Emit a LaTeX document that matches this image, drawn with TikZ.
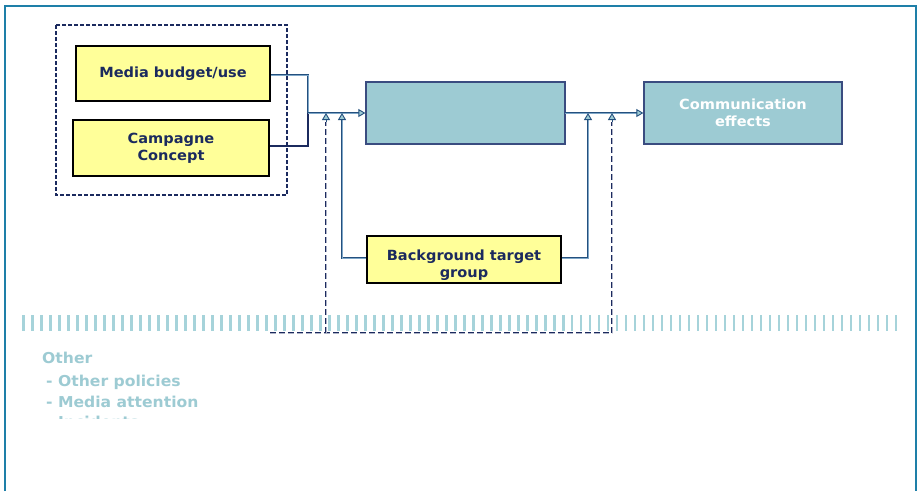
\documentclass[tikz,border=0pt]{standalone}
\usepackage{fontspec}
\setmainfont{DejaVu Sans}[BoldFeatures={FakeStretch=1.04}]
\usetikzlibrary{arrows.meta}
\definecolor{frame}{HTML}{1E7FA8}
\definecolor{navy}{HTML}{1B2A5E}
\definecolor{ybox}{HTML}{FFFF99}
\definecolor{tealbox}{HTML}{9DCBD3}
\definecolor{tickc}{HTML}{A6D3DA}
\definecolor{linec}{HTML}{24507E}
\definecolor{linein}{HTML}{7FA7C8}
\definecolor{boxline}{HTML}{3A4C80}
\tikzset{
  yellowbox/.style={draw=black, line width=1.8pt, fill=ybox, inner sep=0pt, align=center,
    font=\fontsize{14}{17}\selectfont\bfseries, text=navy},
  bluebox/.style={draw=boxline, line width=1.3pt, fill=tealbox, inner sep=0pt, align=center,
    font=\fontsize{14}{17}\selectfont\bfseries, text=white},
  conn/.style={draw=linec, line width=0.8pt, double=linein, double distance=1.0pt},
  darkconn/.style={draw=navy, line width=2.4pt},
  dashconn/.style={draw=navy!35!white, line width=0.7pt, dash pattern=on 6pt off 3pt,
    preaction={draw=navy, line width=2.8pt, dash pattern=on 6pt off 3pt}},
  grpbox/.style={draw=navy, line width=1.5pt, dash pattern=on 4pt off 2pt},
  tip/.style={-{Triangle[open, length=7pt, width=8pt, fill=tealbox, line width=0.9pt]}},
  tipline/.style={draw=linec, line width=0.9pt},
  othertext/.style={text=tealbox, font=\fontsize{15}{18}\selectfont\bfseries, anchor=west, inner sep=0pt},
}
\begin{document}
\begin{tikzpicture}[x=1pt, y=-1pt]
\useasboundingbox (0,0) rectangle (919,491);
\fill[white] (0,0) rectangle (919,491);
% frame
\draw[frame, line width=2.2pt] (5,491) -- (5,6) -- (916,6) -- (916,491);
% tick row
\foreach \i in {0,...,97} {
  \fill[tickc] ({22+8.995*\i},315) rectangle ({24.8+8.995*\i},331);
}
% group dashed box
\draw[grpbox] (56,25) rectangle (287,195);
% nodes
\node[yellowbox, minimum width=194pt, minimum height=55pt] (media) at (173,73.5) {Media budget/use};
\node[yellowbox, minimum width=196pt, minimum height=56pt] (camp) at (171,148) {Campagne\\Concept};
\node[bluebox, minimum width=199pt, minimum height=62pt] (mid) at (465.5,113) {};
\node[bluebox, minimum width=198pt, minimum height=62pt] (comm) at (743,113) {Communication\\effects};
\node[yellowbox, minimum width=194pt, minimum height=47pt] (bg) at (464,259.5) {};
\node[align=center, font=\fontsize{14}{17}\selectfont\bfseries, text=navy, inner sep=0pt] (bgtext) at (464,265.5) {Background target\\group};
% coordinates
\coordinate (j1) at (308,113);
\coordinate (j2) at (565,113);
\coordinate (a1) at (326,113);
\coordinate (a2) at (342,113);
\coordinate (a3) at (588,113);
\coordinate (a4) at (612,113);
\coordinate (a1b) at (326,122);
\coordinate (a4b) at (612,122);
\coordinate (dl) at (270,333);
\coordinate (dr) at (612,333);
\coordinate (dm) at (326,333);
% connectors
\draw[conn] (media.east |- 0,75) -| (j1);
\draw[darkconn] (camp.east |- 0,146) -| (j1);
\draw[conn, tip] (j1) -- (mid.west);
\draw[conn, tip] (j2) -- (comm.west);
\draw[conn, tip] (bg.west |- 0,258) -| (a2);
\draw[conn, tip] (bg.east |- 0,258) -| (a3);
\draw[dashconn] (dl) -- (dr);
\draw[dashconn] (dm) -- (a1b);
\draw[dashconn] (dr) -- (a4b);
\draw[tipline, tip] (a1b) -- (a1);
\draw[tipline, tip] (a4b) -- (a4);
% other text
\begin{scope}
\clip (30,340) rectangle (400,418.5);
\node[othertext] (other) at (42,358) {Other};
\node[othertext] (pol) at (46,382) {- Other policies};
\node[othertext] (att) at (46,402) {- Media attention};
\node[othertext] (inc) at (46,421.5) {- Incidents};
\end{scope}
\end{tikzpicture}
\end{document}
